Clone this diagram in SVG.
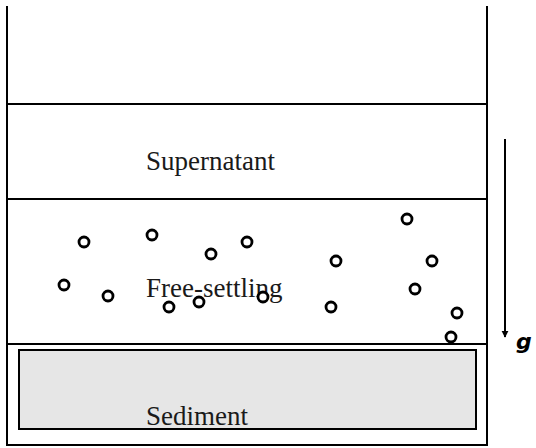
<svg xmlns="http://www.w3.org/2000/svg" width="536" height="448" viewBox="0 0 536 448">
<style>
.ln{stroke:#000;stroke-width:2;fill:none}
.p{fill:#fff;stroke:#000;stroke-width:2.8}
.lbl{font-family:"Liberation Serif","Times New Roman",Times,serif;font-size:27px;fill:#1a1a1a}
</style>
<defs>
<marker id="ah" viewBox="0 0 10 10" refX="9" refY="5" markerWidth="7" markerHeight="8" markerUnits="userSpaceOnUse" orient="auto"><path d="M0,0 L10,5 L0,10 z" fill="#000"/></marker>
</defs>
<rect width="536" height="448" fill="#fff"/>
<g id="container">
<path class="ln" d="M7,6 V445 H487 V6"/>
</g>
<g id="layer-lines">
<line class="ln" x1="7" y1="104" x2="487" y2="104"/>
<line class="ln" x1="7" y1="199" x2="487" y2="199"/>
<line class="ln" x1="7" y1="344" x2="487" y2="344"/>
</g>
<g id="supernatant">
<text class="lbl" x="146" y="170">Supernatant</text>
</g>
<g id="sediment">
<rect x="19" y="350" width="457" height="79" fill="#e6e6e6" stroke="#000" stroke-width="2"/>
<text class="lbl" x="146" y="425">Sediment</text>
</g>
<g id="free-settling">
<text class="lbl" x="146" y="297">Free-settling</text>
<g id="particles">
<circle class="p" cx="84" cy="242" r="5"/>
<circle class="p" cx="152" cy="235" r="5"/>
<circle class="p" cx="211" cy="254" r="5"/>
<circle class="p" cx="247" cy="242" r="5"/>
<circle class="p" cx="64" cy="285" r="5"/>
<circle class="p" cx="108" cy="296" r="5"/>
<circle class="p" cx="169" cy="307" r="5"/>
<circle class="p" cx="199" cy="302" r="5"/>
<circle class="p" cx="263" cy="297" r="5"/>
<circle class="p" cx="407" cy="219" r="5"/>
<circle class="p" cx="336" cy="261" r="5"/>
<circle class="p" cx="432" cy="261" r="5"/>
<circle class="p" cx="415" cy="289" r="5"/>
<circle class="p" cx="331" cy="307" r="5"/>
<circle class="p" cx="457" cy="313" r="5"/>
<circle class="p" cx="451" cy="337" r="5"/>
</g>
</g>
<g id="connectors">
<line x1="505" y1="139" x2="505" y2="337" stroke="#000" stroke-width="2" marker-end="url(#ah)"/>
</g>
<g id="gravity">
<text x="516" y="349" font-family="DejaVu Sans,sans-serif" font-style="italic" font-weight="bold" font-size="22" fill="#000">g</text>
</g>
</svg>
